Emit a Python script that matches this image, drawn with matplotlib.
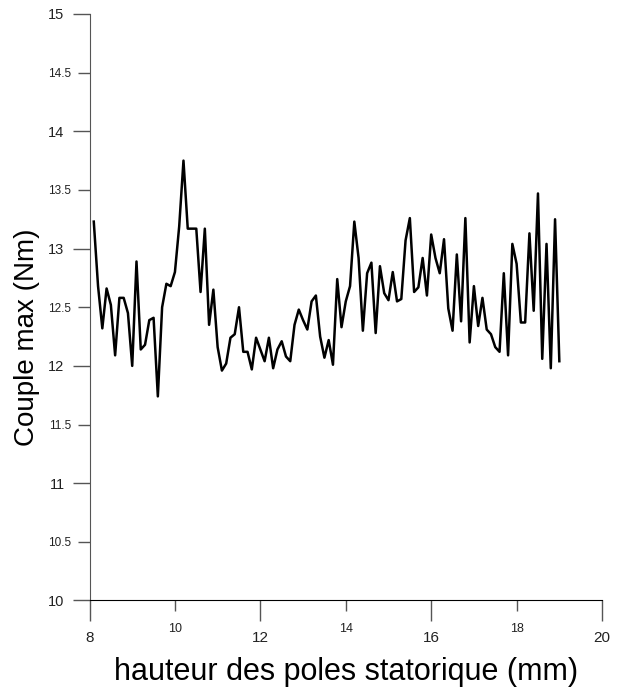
import numpy as np
import matplotlib
matplotlib.use("Agg")
import matplotlib.pyplot as plt
from matplotlib.ticker import FixedLocator, FormatStrFormatter

plt.rcParams["font.family"] = ["Liberation Sans", "DejaVu Sans"]

# hauteur des poles (mm), pas de 0.1
hauteur = np.round(np.arange(8.1, 19.05, 0.1), 1)

# couple max (Nm)
couple = [
    13.23, 12.68, 12.32, 12.66, 12.52, 12.09, 12.58, 12.58, 12.45, 12.00,
    12.89, 12.14, 12.18, 12.39, 12.41, 11.74, 12.50, 12.70, 12.68, 12.80,
    13.19, 13.75, 13.17, 13.17, 13.17, 12.63, 13.17, 12.35, 12.65, 12.16,
    11.96, 12.02, 12.24, 12.27, 12.50, 12.12, 12.12, 11.97, 12.24, 12.14,
    12.04, 12.24, 11.98, 12.14, 12.21, 12.08, 12.04, 12.35, 12.48, 12.39,
    12.31, 12.55, 12.60, 12.25, 12.07, 12.22, 12.01, 12.74, 12.33, 12.55,
    12.68, 13.23, 12.92, 12.30, 12.79, 12.88, 12.28, 12.85, 12.62, 12.56,
    12.80, 12.55, 12.57, 13.07, 13.26, 12.63, 12.67, 12.92, 12.60, 13.12,
    12.92, 12.79, 13.08, 12.49, 12.30, 12.95, 12.38, 13.26, 12.20, 12.68,
    12.34, 12.58, 12.31, 12.27, 12.16, 12.12, 12.79, 12.09, 13.04, 12.87,
    12.37, 12.37, 13.13, 12.47, 13.47, 12.06, 13.04, 11.98, 13.25, 12.04,
]

x_major = [8, 12, 16, 20]
x_minor = [10, 14, 18]
y_major = [10, 11, 12, 13, 14, 15]
y_minor = [10.5, 11.5, 12.5, 13.5, 14.5]

fig = plt.figure(figsize=(6.19, 6.93), dpi=100)
ax = fig.add_axes([0.1446, 0.1335, 0.828, 0.8463])

ax.plot(hauteur, couple, color="black", lw=1.8)

ax.set_xlim(8, 20)
ax.set_ylim(10, 15)

ax.spines["top"].set_visible(False)
ax.spines["right"].set_visible(False)
ax.spines["left"].set_color("#555555")
ax.spines["bottom"].set_color("black")

ax.xaxis.set_major_locator(FixedLocator(x_major))
ax.xaxis.set_minor_locator(FixedLocator(x_minor))
ax.yaxis.set_major_locator(FixedLocator(y_major))
ax.yaxis.set_minor_locator(FixedLocator(y_minor))
ax.xaxis.set_minor_formatter(FormatStrFormatter("%g"))
ax.yaxis.set_major_formatter(FormatStrFormatter("%g"))
ax.yaxis.set_minor_formatter(FormatStrFormatter("%g"))

ax.tick_params(axis="x", which="major", direction="out", length=15, width=1,
               color="#555555", labelsize=11, labelcolor="#222222", pad=7)
ax.tick_params(axis="x", which="minor", direction="out", length=8, width=1,
               color="#555555", labelsize=9, labelcolor="#222222", pad=8)
ax.tick_params(axis="y", which="major", direction="out", length=12, width=1,
               color="#555555", labelsize=10.5, labelcolor="#222222", pad=6)
ax.tick_params(axis="y", which="minor", direction="out", length=9, width=1,
               color="#555555", labelsize=8.5, labelcolor="#222222", pad=4)

ax.set_xlabel("hauteur des poles statorique (mm)", fontsize=22, va="center")
ax.xaxis.set_label_coords(0.5, -0.122)
ax.set_ylabel("Couple max (Nm)", fontsize=20, va="center")
ax.yaxis.set_label_coords(-0.122, 0.449)

fig.savefig("out.png", dpi=100)
